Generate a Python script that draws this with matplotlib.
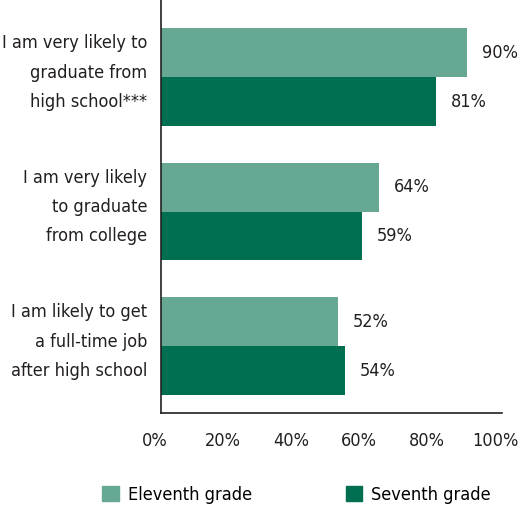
import matplotlib.pyplot as plt
import matplotlib.transforms as mtransforms
import numpy as np
from matplotlib.patches import Patch

plt.rcParams['font.family'] = ['DejaVu Sans']
plt.rcParams['font.stretch'] = 'condensed'

categories = ['I am very likely to\ngraduate from\nhigh school***',
              'I am very likely\nto graduate\nfrom college',
              'I am likely to get\na full-time job\nafter high school']
eleventh = [90, 64, 52]
seventh = [81, 59, 54]
series_names = ['Eleventh grade', 'Seventh grade']
ticks = [0, 20, 40, 60, 80, 100]

light = '#66a893'
dark = '#006e50'
fs = 13

fig = plt.figure(figsize=(5.22, 5.08), dpi=100)
ax = fig.add_axes([161 / 522, 95 / 508, 341 / 522, 413 / 508])

y = np.arange(len(categories))
h = 0.364
ax.barh(y - h / 2, eleventh, height=h, color=light)
ax.barh(y + h / 2, seventh, height=h, color=dark)

for yi, v in zip(y - h / 2, eleventh):
    ax.text(v + 4.4, yi, f'{v}%', va='center', ha='left', fontsize=fs, color='#231f20')
for yi, v in zip(y + h / 2, seventh):
    ax.text(v + 4.4, yi, f'{v}%', va='center', ha='left', fontsize=fs, color='#231f20')

ax.set_xlim(0, 100.3)
ax.set_ylim(2.498, -0.573)
ax.set_xticks(ticks)
ax.set_xticklabels([f'{t}%' for t in ticks], fontsize=fs, color='#231f20')
ax.set_yticks(y)
ax.set_yticklabels(categories, fontsize=fs, color='#231f20', linespacing=1.8)
ax.tick_params(length=0, pad=10)
ax.tick_params(axis='x', pad=14)

# small nudges so labels sit where the original puts them
dx = mtransforms.ScaledTranslation(-6 / 100, 0, fig.dpi_scale_trans)
for lbl in ax.get_xticklabels():
    lbl.set_transform(lbl.get_transform() + dx)
dy = mtransforms.ScaledTranslation(0, 12 / 100, fig.dpi_scale_trans)
for lbl in ax.get_yticklabels():
    lbl.set_transform(lbl.get_transform() + dy)

for s in ['top', 'right']:
    ax.spines[s].set_visible(False)
for s in ['left', 'bottom']:
    ax.spines[s].set_color('#231f20')
    ax.spines[s].set_linewidth(1.2)

handles = [Patch(color=light), Patch(color=dark)]
fig.legend(handles, series_names, loc='center', bbox_to_anchor=(0.568, 0.026), ncol=2,
           frameon=False, fontsize=fs, handlelength=0.9, handleheight=0.9,
           columnspacing=5.2, handletextpad=0.5)

fig.savefig('out.png', dpi=100)
